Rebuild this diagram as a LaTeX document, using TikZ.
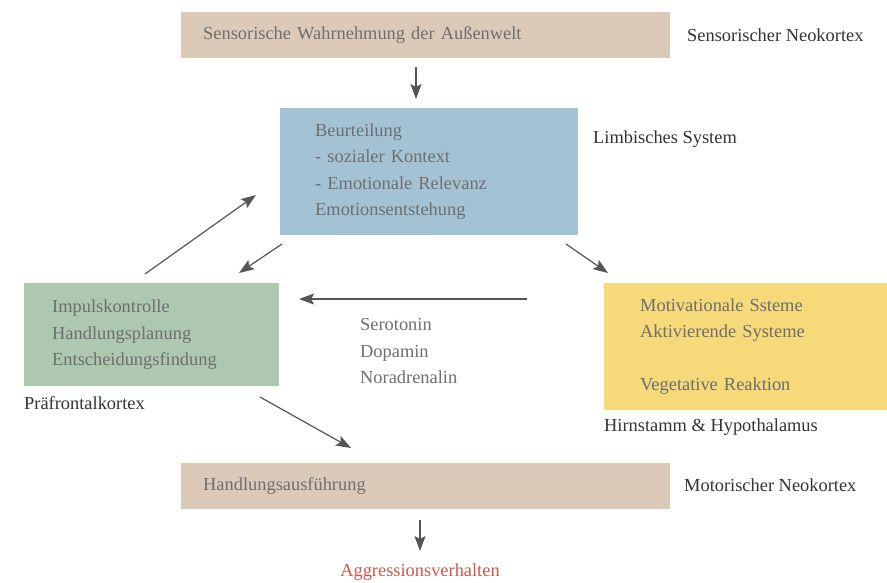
\documentclass[tikz,border=0pt]{standalone}
\usepackage{fontspec}
\setmainfont{Liberation Serif}
\usetikzlibrary{arrows.meta}
\definecolor{tanbox}{HTML}{DBCAB8}
\definecolor{bluebox}{HTML}{A3C3D5}
\definecolor{greenbox}{HTML}{AEC7AF}
\definecolor{yellowbox}{HTML}{F6D978}
\definecolor{boxtext}{HTML}{6E6E6E}
\definecolor{labeltext}{HTML}{333333}
\definecolor{redtext}{HTML}{D0564A}
\definecolor{arrowcol}{HTML}{555555}
\begin{document}
\begin{tikzpicture}[x=1pt,y=-1pt,
  font=\fontsize{18.4}{26.5}\selectfont,
  boxbase/.style={rectangle, inner ysep=0pt, align=left, text=boxtext, anchor=north west},
  tanstyle/.style={boxbase, fill=tanbox, minimum height=46pt, inner xsep=22pt, text width=445pt},
  labelstyle/.style={anchor=west, text=labeltext, inner sep=0pt},
  plaintext/.style={anchor=west, text=boxtext, inner sep=0pt, align=left},
  conn/.style={draw=arrowcol, line width=1.2pt, -{Stealth[length=15pt,width=11pt,inset=3pt]}}
]
\useasboundingbox (0,0) rectangle (887,582);

\node[tanstyle] (sens) at (181,12) {Sensorische Wahrnehmung der Außenwelt};
\node[labelstyle] (sensl) at (687,35) {Sensorischer Neokortex};

\node[boxbase, fill=bluebox, minimum height=127pt, inner xsep=35pt, text width=228pt] (limb) at (280,108)
  {Beurteilung\\- sozialer Kontext\\- Emotionale Relevanz\\Emotionsentstehung};
\node[labelstyle] (limbl) at (593,139) {Limbisches System};

\node[boxbase, fill=greenbox, minimum height=103pt, inner xsep=28pt, text width=199pt] (pfc) at (24,283)
  {Impulskontrolle\\Handlungsplanung\\Entscheidungsfindung};
\node[labelstyle] (pfcl) at (24,403) {Präfrontalkortex};

\node[boxbase, fill=yellowbox, minimum height=127pt, inner xsep=36pt, text width=211pt] (hyp) at (604,283)
  {Motivationale Ssteme\\Aktivierende Systeme\\\strut\\Vegetative Reaktion};
\node[labelstyle] (hypl) at (604,427) {Hirnstamm \& Hypothalamus};

\node[plaintext] (neuro) at (360,351) {Serotonin\\Dopamin\\Noradrenalin};

\node[tanstyle] (motor) at (181,463) {Handlungsausführung};
\node[labelstyle] (motorl) at (684,485) {Motorischer Neokortex};

\node[text=redtext, inner sep=0pt] (aggr) at (420,572) {Aggressionsverhalten};

\coordinate (a1s) at (416,67); \coordinate (a1e) at (416,99);
\draw[conn] (a1s) -- (a1e);
\coordinate (a2s) at (145,274); \coordinate (a2e) at (256,195);
\draw[conn] (a2s) -- (a2e);
\coordinate (a3s) at (282,244); \coordinate (a3e) at (239,273);
\draw[conn] (a3s) -- (a3e);
\coordinate (a4s) at (566,244); \coordinate (a4e) at (608,273);
\draw[conn] (a4s) -- (a4e);
\coordinate (a5s) at (527,299); \coordinate (a5e) at (299,299);
\draw[conn] (a5s) -- (a5e);
\coordinate (a6s) at (260,397); \coordinate (a6e) at (351,448);
\draw[conn] (a6s) -- (a6e);
\coordinate (a7s) at (420,520); \coordinate (a7e) at (420,551);
\draw[conn] (a7s) -- (a7e);
\end{tikzpicture}
\end{document}
